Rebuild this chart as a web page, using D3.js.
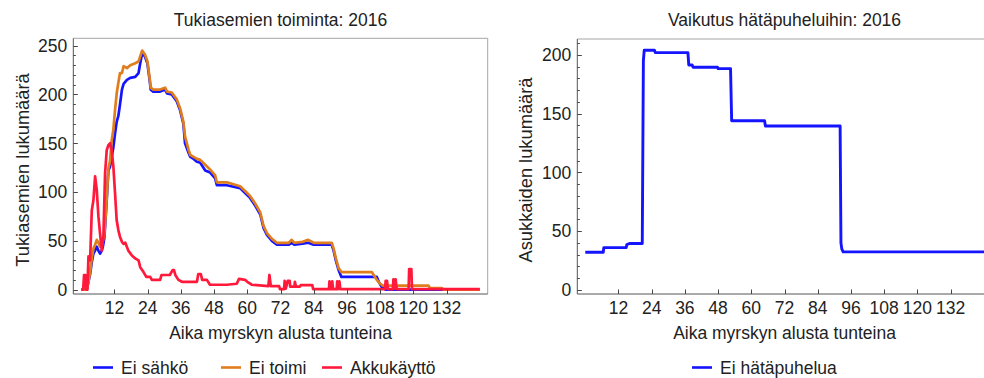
<!DOCTYPE html>
<html>
<head>
<meta charset="utf-8">
<script src="https://cdn.jsdelivr.net/npm/d3@7"></script>
<style>
  html, body { margin: 0; padding: 0; background: #fff; }
  svg { display: block; }
  text { font-family: "Liberation Sans", Arial, sans-serif; fill: #222; }
</style>
</head>
<body>
<svg id="chart" width="984" height="378"></svg>
<script>
// ---------------- DATA ----------------
const leftTitle = "Tukiasemien toiminta: 2016";
const rightTitle = "Vaikutus hätäpuheluihin: 2016";
const xAxisTitle = "Aika myrskyn alusta tunteina";
const leftYTitle = "Tukiasemien lukumäärä";
const rightYTitle = "Asukkaiden lukumäärä";
const xTicks = [12, 24, 36, 48, 60, 72, 84, 96, 108, 120, 132];
const leftYTicks = [0, 50, 100, 150, 200, 250];
const rightYTicks = [0, 50, 100, 150, 200];
const leftSeriesNames = ["Ei sähkö", "Ei toimi", "Akkukäyttö"];
const rightSeriesNames = ["Ei hätäpuhelua"];

// [hour, count]
const eiSahko = [[0,0],[2,0],[2.6,8],[3.2,16],[3.8,28],[4.4,37],[5,40],[5.6,44],[6.2,40],[6.8,37],[7.4,40],[7.8,44],[8.3,52],[8.6,64],[9.2,92],[9.8,122],[10.4,126],[11,136],[11.6,146],[12.2,160],[12.8,172],[13.4,178],[14,190],[14.7,205],[15.3,211],[16.5,215],[17.7,217],[19.5,218],[20.7,222],[21.3,232],[22,242],[23,239],[23.9,232],[24.7,215],[25.1,205],[26,203],[28.5,203],[30.3,205],[31,201],[32.7,200],[34.5,193],[35.7,184],[36.9,170],[37.5,150],[38.8,140],[39.4,136],[40.6,134],[41.8,131],[43,130],[44.8,122],[46.6,120],[48.4,114],[49,107],[52.6,107],[57.4,104],[59.2,99],[61,94],[62.9,86],[64.7,77],[65.9,63],[67.1,56],[68.9,50],[70.7,46],[75,46],[76,48],[77,46],[80,47],[82,48],[84,46],[90.5,46],[91.2,40],[92,30],[93,20],[94,13],[106.8,13],[107.5,8],[108.5,3],[110,0],[144,0]];
const eiToimi = [[0,0],[2,0],[2.6,8],[3.2,18],[3.8,32],[4.4,42],[5,46],[5.6,51],[6.2,48],[6.8,44],[7.4,47],[7.8,50],[8.3,56],[8.6,66],[9.2,94],[9.8,124],[10.4,132],[11,153],[11.6,164],[12.2,184],[12.8,201],[13.4,212],[14,222],[14.7,222],[15.3,229],[16.5,227],[17.7,230],[19.5,232],[20.7,234],[21.3,239],[22,245],[23,241],[23.9,234],[24.7,217],[25.1,207],[26,205],[28.5,205],[30.3,207],[31,203],[32.7,202],[34.5,195],[35.7,186],[36.9,172],[37.5,157],[38.8,143],[39.4,138],[40.6,136],[41.8,134],[43,133],[44.8,128],[46.6,123],[48.4,117],[49,110],[52.6,110],[57.4,106],[59.2,101],[61,96],[62.9,88],[64.7,79],[65.9,65],[67.1,58],[68.9,52],[70.7,48],[75,48],[76,51],[77,48],[80,49],[82,51],[84,48],[90.5,48],[91.2,42],[92,32],[93,22],[94,18],[105,18],[106.8,10],[108,6],[109,4],[125.5,4],[126,1.5],[130.3,1.5],[131,0],[144,0]];
const akkukaytto = [[0,0],[0.7,0],[1,15],[1.5,15],[1.8,0],[2.2,0],[2.6,34],[3.2,30],[3.8,81],[4.4,92],[5,116],[5.6,102],[6.2,75],[6.8,57],[7.4,40],[8,54],[8.6,119],[9.2,143],[9.8,148],[10.4,150],[11,143],[11.6,126],[12.2,99],[12.8,71],[13.4,61],[14,54],[14.7,49],[15.3,47],[15.9,48],[17,40],[18.3,35],[19.5,32],[20.7,30],[21.3,23],[22.5,18],[23.5,13],[24.9,13],[25.5,10],[28.5,10],[29,15],[32,15],[33,20],[33.5,20],[34,15],[35.1,10],[36.4,8],[41.8,8],[42.3,16],[43.2,16],[43.7,10],[45.4,10],[46.5,5],[52.6,5],[56.2,6],[57,11],[59.2,10],[60,8],[61.6,5],[67.6,3.5],[68,15],[68.5,3.5],[71.5,3.5],[71.8,0.5],[73.3,0.5],[73.5,9],[73.9,1],[74.6,9],[75.3,9],[75.5,3],[77,3],[77.2,8],[77.6,3],[79,3],[79.3,4.5],[83.5,4.5],[83.8,0.5],[89.5,0.5],[89.7,8.5],[90,0.5],[90.5,0.5],[90.7,8.5],[91,0.5],[92.3,0.5],[92.5,8.5],[92.8,0.5],[93.3,8.5],[93.6,0.5],[109.8,0.5],[110,9],[110.5,9],[110.8,0.5],[112.6,0.5],[112.8,10.5],[113.2,1],[113.6,10.5],[114,0.5],[118.3,0.5],[118.5,21],[119.3,21],[119.5,0.5],[144,0.5]];
const eiHatapuhelua = [[0,32],[6.5,32],[6.7,36],[14.8,36],[15,38.5],[16,39.5],[20.6,39.5],[21,195],[21.3,204],[25,204],[25.3,202],[37.1,202],[37.4,191.5],[38.6,191.5],[39,189.5],[47.8,189.5],[48,188.4],[52.5,188.4],[52.9,144],[64.8,144],[65.1,139.5],[92.1,139.5],[92.4,40],[92.7,35],[93.2,32.4],[146,32.4]];

const colors = { blue: "#1414ff", orange: "#e07d1e", red: "#ff1a3c" };

// ---------------- DRAW ----------------
const svg = d3.select("#chart");
const FONT = 17.5;

function panel(opt) {
  const g = svg.append("g");
  const x = d3.scaleLinear().domain([-2.88, 146.88]).range([opt.x0, opt.x1]);
  const y = d3.scaleLinear().domain(opt.yDomain).range([294, opt.top]);
  const clipId = "clip" + opt.id;
  svg.append("clipPath").attr("id", clipId).append("rect")
    .attr("x", opt.x0).attr("y", opt.top).attr("width", opt.x1 - opt.x0).attr("height", 294 - opt.top);

  // frame (top / right)
  g.append("path").attr("d", `M${opt.x0},${opt.top}H${opt.x1}V294`)
    .attr("fill", "none").attr("stroke", "#a6a6a6").attr("stroke-width", 1);

  // series
  const line = d3.line().x(d => x(d[0])).y(d => y(d[1]));
  const lg = g.append("g").attr("clip-path", `url(#${clipId})`);
  opt.series.forEach(s => {
    lg.append("path").datum(s.data).attr("d", line)
      .attr("fill", "none").attr("stroke", s.color).attr("stroke-width", opt.lw)
      .attr("stroke-linejoin", "round").attr("stroke-linecap", "butt");
  });

  // left axis
  g.append("line").attr("x1", opt.x0).attr("x2", opt.x0).attr("y1", opt.top).attr("y2", 294)
    .attr("stroke", "#555").attr("stroke-width", 1);
  const minor = d3.range(0, opt.yDomain[1], 10);
  g.selectAll(null).data(minor).enter().append("line")
    .attr("x1", opt.x0).attr("x2", d => opt.x0 + (d % 50 === 0 ? 4.5 : 2.5))
    .attr("y1", d => Math.round(y(d)) + 0.5).attr("y2", d => Math.round(y(d)) + 0.5)
    .attr("stroke", "#444").attr("stroke-width", 1);
  g.selectAll(null).data(opt.yTicks).enter().append("text")
    .attr("x", opt.x0 - 6).attr("y", d => y(d)).attr("dy", "0.36em")
    .attr("text-anchor", "end").attr("font-size", FONT).text(d => d);

  // bottom axis
  g.append("line").attr("x1", opt.x0).attr("x2", opt.x1).attr("y1", 294).attr("y2", 294)
    .attr("stroke", "#555").attr("stroke-width", 1);
  g.selectAll(null).data(xTicks).enter().append("line")
    .attr("x1", d => Math.round(x(d)) + 0.5).attr("x2", d => Math.round(x(d)) + 0.5)
    .attr("y1", 294).attr("y2", 289.5).attr("stroke", "#444").attr("stroke-width", 1);
  g.selectAll(null).data(xTicks).enter().append("text")
    .attr("x", d => x(d)).attr("y", 313.5).attr("text-anchor", "middle")
    .attr("font-size", FONT).text(d => d);

  // titles
  const cx = (opt.x0 + opt.x1) / 2;
  g.append("text").attr("x", cx).attr("y", 26).attr("text-anchor", "middle")
    .attr("font-size", FONT).text(opt.title);
  g.append("text").attr("x", cx).attr("y", 339).attr("text-anchor", "middle")
    .attr("font-size", FONT).text(xAxisTitle);
  g.append("text").attr("transform", `translate(${opt.yTitleX},170) rotate(-90)`)
    .attr("text-anchor", "middle").attr("font-size", 18.3).text(opt.yTitle);

  // legend
  opt.legend.forEach(l => {
    g.append("line").attr("x1", l.lx).attr("x2", l.lx + 20).attr("y1", 367.5).attr("y2", 367.5)
      .attr("stroke", l.color).attr("stroke-width", 2.6);
    g.append("text").attr("x", l.lx + 28).attr("y", 373.5).attr("font-size", FONT).text(l.name);
  });
}

panel({
  id: "L", x0: 73.3, x1: 487.7, top: 38.3, yDomain: [-4.5, 257.6], yTicks: leftYTicks,
  title: leftTitle, yTitle: leftYTitle, yTitleX: 28.5, lw: 2.7,
  series: [
    { data: eiSahko, color: colors.blue },
    { data: eiToimi, color: colors.orange },
    { data: akkukaytto, color: colors.red }
  ],
  legend: [
    { lx: 93, name: leftSeriesNames[0], color: colors.blue },
    { lx: 221, name: leftSeriesNames[1], color: colors.orange },
    { lx: 322, name: leftSeriesNames[2], color: colors.red }
  ]
});

panel({
  id: "R", x0: 577.3, x1: 991.7, top: 39, yDomain: [-3.5, 213.6], yTicks: rightYTicks,
  title: rightTitle, yTitle: rightYTitle, yTitleX: 531.5, lw: 2.9,
  series: [ { data: eiHatapuhelua, color: colors.blue } ],
  legend: [ { lx: 692, name: rightSeriesNames[0], color: colors.blue } ]
});
</script>
</body>
</html>
